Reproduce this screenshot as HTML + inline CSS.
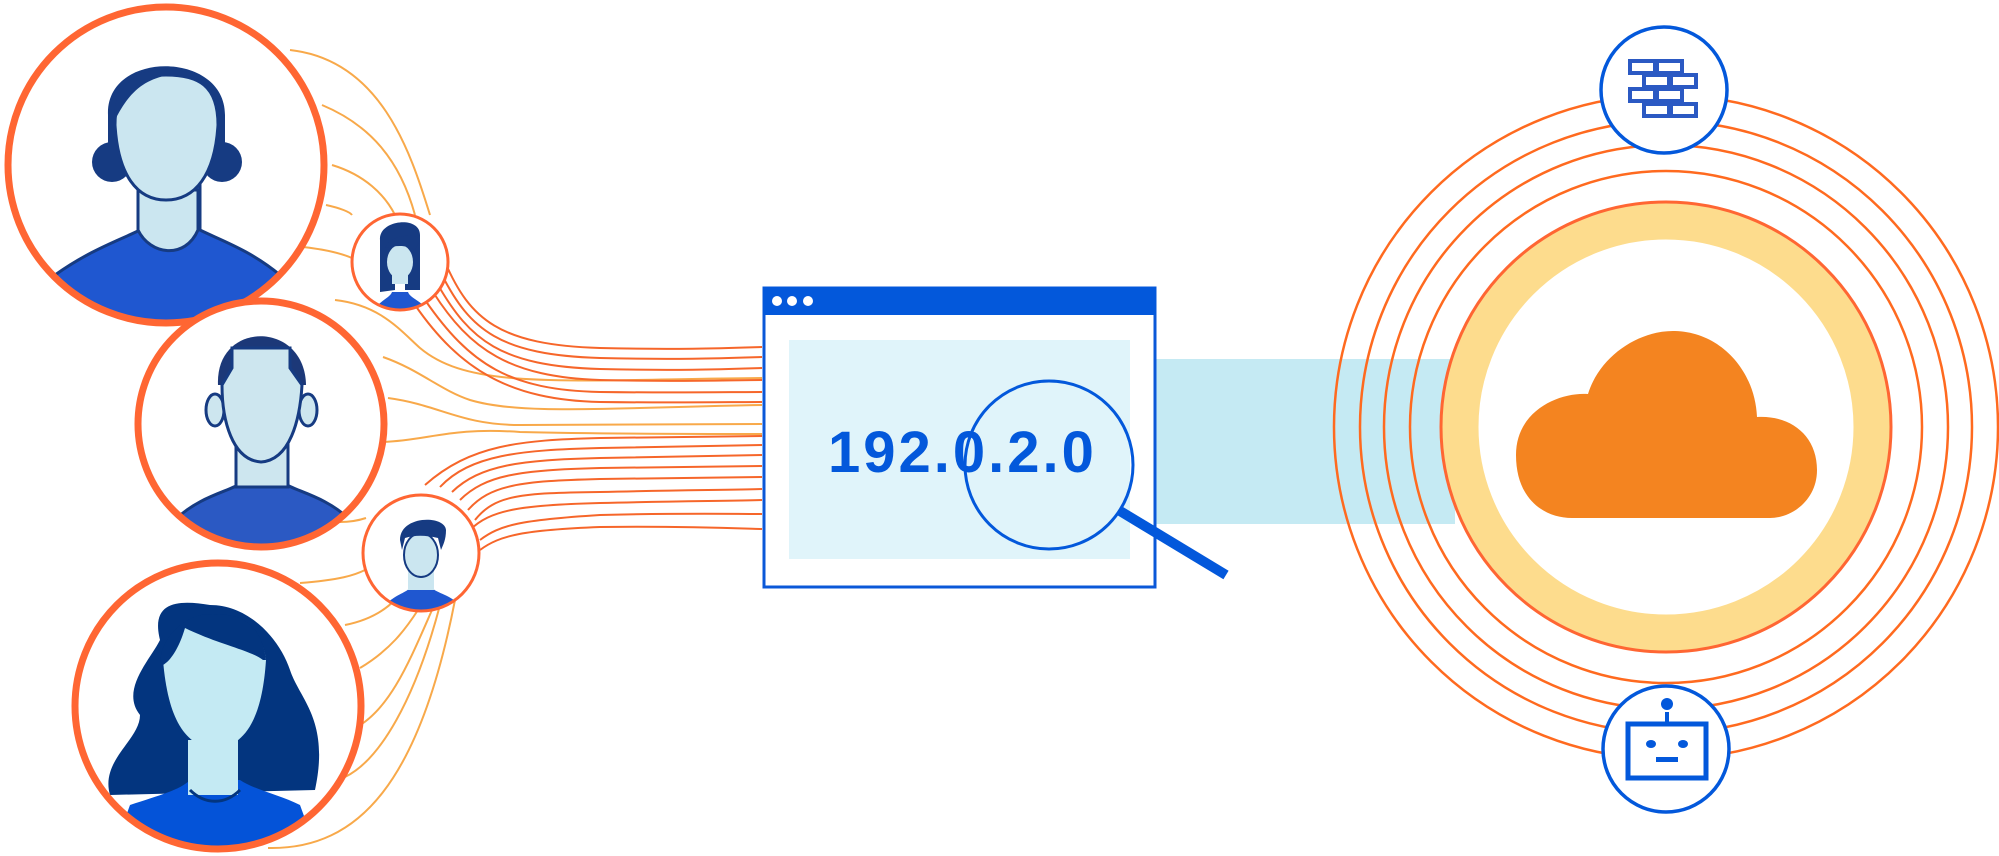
<!DOCTYPE html>
<html><head><meta charset="utf-8"><style>
html,body{margin:0;padding:0;background:#fff;width:1999px;height:856px;overflow:hidden}
svg{display:block}
</style></head><body>
<svg width="1999" height="856" viewBox="0 0 1999 856" xmlns="http://www.w3.org/2000/svg">
<defs>
<clipPath id="c1"><circle cx="166" cy="165" r="158"/></clipPath>
<clipPath id="c2"><circle cx="261" cy="424" r="123"/></clipPath>
<clipPath id="c3"><circle cx="218" cy="706" r="143"/></clipPath>
<clipPath id="ca"><circle cx="400" cy="262" r="48"/></clipPath>
<clipPath id="cb"><circle cx="421" cy="553" r="58"/></clipPath>
</defs>
<rect x="1155" y="359" width="300" height="165" fill="#c5eaf3"/>
<g fill="none" stroke-width="2">
<g stroke="#f8a94a">
<path d="M290 50 C380 60 410 150 430 215"/>
<path d="M322 105 C370 125 400 160 415 215"/>
<path d="M332 165 C365 175 385 195 395 215"/>
<path d="M326 205 C340 208 350 212 352 215"/>
<path d="M303 247 C330 250 345 255 352 258"/>
<path d="M335 300 C380 305 400 330 420 348 C470 390 560 380 762 378"/>
<path d="M383 357 C420 370 440 390 470 400 C520 415 600 408 762 405"/>
<path d="M388 398 C440 405 460 425 520 425 C600 425 680 424 762 424"/>
<path d="M383 442 C430 440 450 427 520 432 C600 434 680 434 762 434"/>
<path d="M340 522 C350 522 360 520 366 518"/>
<path d="M300 583 C340 580 355 575 365 570"/>
<path d="M345 625 C370 620 385 610 395 600"/>
<path d="M360 668 C390 650 405 630 418 610"/>
<path d="M355 728 C390 710 410 660 432 610"/>
<path d="M345 777 C380 760 415 700 440 605"/>
<path d="M268 848 C360 850 420 780 455 600"/>
</g>
<g stroke="#f6662a">
<path d="M445 262 C470 320 500 345 600 348 C680 350 730 348 762 347"/>
<path d="M442 275 C470 330 500 355 600 358 C680 360 730 358 762 357"/>
<path d="M438 285 C470 340 500 366 600 369 C680 371 730 369 762 368"/>
<path d="M433 292 C470 350 510 377 600 380 C680 382 730 380 762 380"/>
<path d="M425 300 C470 365 510 390 600 392 C680 393 730 392 762 392"/>
<path d="M415 305 C460 370 510 400 600 402 C680 403 730 402 762 402"/>
<path d="M470 530 C490 510 520 505 600 503 C680 501 730 501 762 500"/>
<path d="M475 520 C495 495 520 493 600 492 C680 490 730 490 762 489"/>
<path d="M468 510 C490 485 520 481 600 479 C680 478 730 477 762 477"/>
<path d="M460 500 C485 475 520 470 600 468 C680 467 730 466 762 466"/>
<path d="M452 492 C480 465 520 460 600 458 C680 457 730 456 762 455"/>
<path d="M440 487 C470 455 520 450 600 448 C680 447 730 446 762 445"/>
<path d="M425 485 C470 445 520 440 600 438 C680 437 730 436 762 436"/>
<path d="M480 540 C500 525 520 520 600 515 C680 513 730 514 762 514"/>
<path d="M480 550 C500 535 525 530 600 527 C680 526 730 528 762 529"/>
</g>
</g>
<circle cx="166" cy="165" r="158" fill="#fff"/>
<g clip-path="url(#c1)">
<path d="M55 275 C90 250 120 240 140 230 L140 180 L200 180 L200 230 C220 240 250 250 280 275 L290 330 L50 330 Z" fill="#1f57d0" stroke="#163b82" stroke-width="3"/>
<path d="M138 190 L138 230 C150 255 185 260 198 230 L198 190 Z" fill="#cbe6f0" stroke="#163b82" stroke-width="3"/>
<circle cx="112" cy="162" r="20" fill="#163b82"/>
<circle cx="222" cy="162" r="20" fill="#163b82"/>
<path d="M108 115 C105 50 225 50 225 115 L225 150 L108 150 Z" fill="#163b82"/>
<path d="M115 125 C115 85 135 75 166 75 C198 75 218 85 218 125 C215 175 195 200 166 200 C137 200 118 175 115 125Z" fill="#cbe6f0" stroke="#163b82" stroke-width="3"/>
<path d="M115 120 C130 90 145 80 168 75 L168 70 C140 65 110 90 115 120Z" fill="#163b82"/>
</g>
<circle cx="166" cy="165" r="158" fill="none" stroke="#ff6633" stroke-width="7"/>
<circle cx="261" cy="424" r="123" fill="#fff"/>
<g clip-path="url(#c2)">
<path d="M175 520 C200 495 235 490 240 483 L285 483 C290 490 325 495 350 520 L360 560 L170 560Z" fill="#2b59c3" stroke="#163b82" stroke-width="3"/>
<rect x="236" y="445" width="52" height="42" fill="#cde6ef" stroke="#163b82" stroke-width="3"/>
<ellipse cx="215" cy="410" rx="9" ry="16" fill="#cde6ef" stroke="#163b82" stroke-width="3"/>
<ellipse cx="308" cy="410" rx="9" ry="16" fill="#cde6ef" stroke="#163b82" stroke-width="3"/>
<path d="M218 385 C215 320 305 320 306 385 Z" fill="#1c3878"/>
<path d="M222 385 L232 368 L232 348 L290 348 L290 368 L302 385 C300 420 290 460 261 462 C232 460 222 420 222 385Z" fill="#cde6ef" stroke="#163b82" stroke-width="3"/>
</g>
<circle cx="261" cy="424" r="123" fill="none" stroke="#ff6633" stroke-width="7"/>
<circle cx="218" cy="706" r="143" fill="#fff"/>
<g clip-path="url(#c3)">
<path d="M160 640 C150 600 180 600 210 605 C250 605 280 640 290 670 C300 700 330 720 315 790 L110 795 C100 760 140 740 140 715 C120 690 150 660 160 640Z" fill="#03357f"/>
<path d="M110 860 L130 805 C160 795 180 790 190 780 L240 780 C255 790 280 795 300 805 L320 860Z" fill="#0453d8"/>
<rect x="188" y="740" width="50" height="55" fill="#c4eaf3"/>
<path d="M190 790 C205 805 225 805 240 790" fill="none" stroke="#03357f" stroke-width="3"/>
<path d="M163 660 C168 630 180 620 215 618 C245 620 262 630 266 660 C262 720 245 745 215 750 C185 745 168 720 163 660Z" fill="#c4eaf3"/>
<path d="M160 660 C165 625 200 610 215 615 C240 612 262 625 266 660 L263 660 C250 650 220 645 185 628 C180 645 172 660 163 665Z" fill="#03357f"/>
</g>
<circle cx="218" cy="706" r="143" fill="none" stroke="#ff6633" stroke-width="7"/>
<circle cx="400" cy="262" r="48" fill="#fff"/>
<g clip-path="url(#ca)">
<path d="M372 312 C380 300 390 298 392 292 L408 292 C410 298 420 300 430 312Z" fill="#1f57d0"/>
<path d="M380 240 C378 220 420 215 420 235 L420 290 L405 290 L405 255 L395 255 L395 290 L380 292 Z" fill="#163b82"/>
<rect x="392" y="268" width="16" height="16" fill="#cbe6f0"/>
<ellipse cx="400" cy="262" rx="13" ry="17" fill="#cbe6f0"/>
<path d="M385 248 C390 235 415 232 420 240 L415 250 C405 244 395 246 385 248Z" fill="#163b82"/>
</g>
<circle cx="400" cy="262" r="48" fill="none" stroke="#ff6633" stroke-width="3"/>
<circle cx="421" cy="553" r="58" fill="#fff"/>
<g clip-path="url(#cb)">
<path d="M385 605 C395 595 405 593 410 588 L432 588 C437 593 450 595 460 605 L462 620 L380 620Z" fill="#1f57d0"/>
<rect x="408" y="570" width="26" height="20" fill="#cbe6f0"/>
<ellipse cx="421" cy="555" rx="17" ry="22" fill="#cbe6f0" stroke="#163b82" stroke-width="2"/>
<path d="M400 540 C400 515 445 515 446 530 C446 540 443 545 441 550 L438 538 C425 535 415 535 405 538 L402 550 Z" fill="#163b82"/>
</g>
<circle cx="421" cy="553" r="58" fill="none" stroke="#ff6633" stroke-width="3"/>
<rect x="764" y="288" width="391" height="299" fill="#fff" stroke="#0b58d8" stroke-width="3"/>
<rect x="763" y="287" width="393" height="28" fill="#0358db"/>
<circle cx="777" cy="301" r="5" fill="#fff"/><circle cx="792" cy="301" r="5" fill="#fff"/><circle cx="808" cy="301" r="5" fill="#fff"/>
<rect x="789" y="340" width="341" height="219" fill="#e0f4fa"/>
<text x="828" y="472" font-family="Liberation Sans, sans-serif" font-weight="bold" font-size="58" letter-spacing="3" fill="#0358db">192.0.2.0</text>
<circle cx="1049" cy="465" r="84" fill="none" stroke="#0358db" stroke-width="3"/>
<line x1="1120" y1="511" x2="1226" y2="575" stroke="#0358db" stroke-width="10"/>
<g fill="none" stroke="#ff6a1f" stroke-width="2.5">
<circle cx="1666" cy="427" r="332"/>
<circle cx="1666" cy="427" r="306"/>
<circle cx="1666" cy="427" r="282"/>
<circle cx="1666" cy="427" r="256"/>
</g>
<circle cx="1666" cy="427" r="206" fill="none" stroke="#fddc8d" stroke-width="37"/>
<circle cx="1666" cy="427" r="225" fill="none" stroke="#ff6633" stroke-width="3"/>
<path d="M1572 518 C1545 518 1516 500 1516 455 C1516 410 1560 392 1588 394 C1600 355 1640 330 1675 331 C1720 332 1755 370 1757 417 C1790 415 1817 435 1817 470 C1817 500 1792 518 1770 518 Z" fill="#f48420"/>
<circle cx="1664" cy="90" r="63" fill="#fff" stroke="#0358db" stroke-width="3.5"/>
<g fill="none" stroke="#2b59c3" stroke-width="4">
<rect x="1630" y="61" width="25" height="12"/><rect x="1657" y="61" width="25" height="12"/>
<rect x="1644" y="75" width="25" height="12"/><rect x="1671" y="75" width="25" height="12"/>
<rect x="1630" y="89" width="25" height="12"/><rect x="1657" y="89" width="25" height="12"/>
<rect x="1644" y="104" width="25" height="12"/><rect x="1671" y="104" width="25" height="12"/>
</g>
<circle cx="1666" cy="749" r="63" fill="#fff" stroke="#0358db" stroke-width="3.5"/>
<rect x="1628" y="724" width="78" height="54" fill="none" stroke="#0358db" stroke-width="5"/>
<line x1="1667" y1="712" x2="1667" y2="724" stroke="#0358db" stroke-width="4"/>
<circle cx="1667" cy="704" r="6" fill="#0358db"/>
<ellipse cx="1651" cy="744" rx="5" ry="4" fill="#0358db"/>
<ellipse cx="1683" cy="744" rx="5" ry="4" fill="#0358db"/>
<rect x="1656" y="757" width="22" height="5" fill="#0358db"/>
</svg>
</body></html>
